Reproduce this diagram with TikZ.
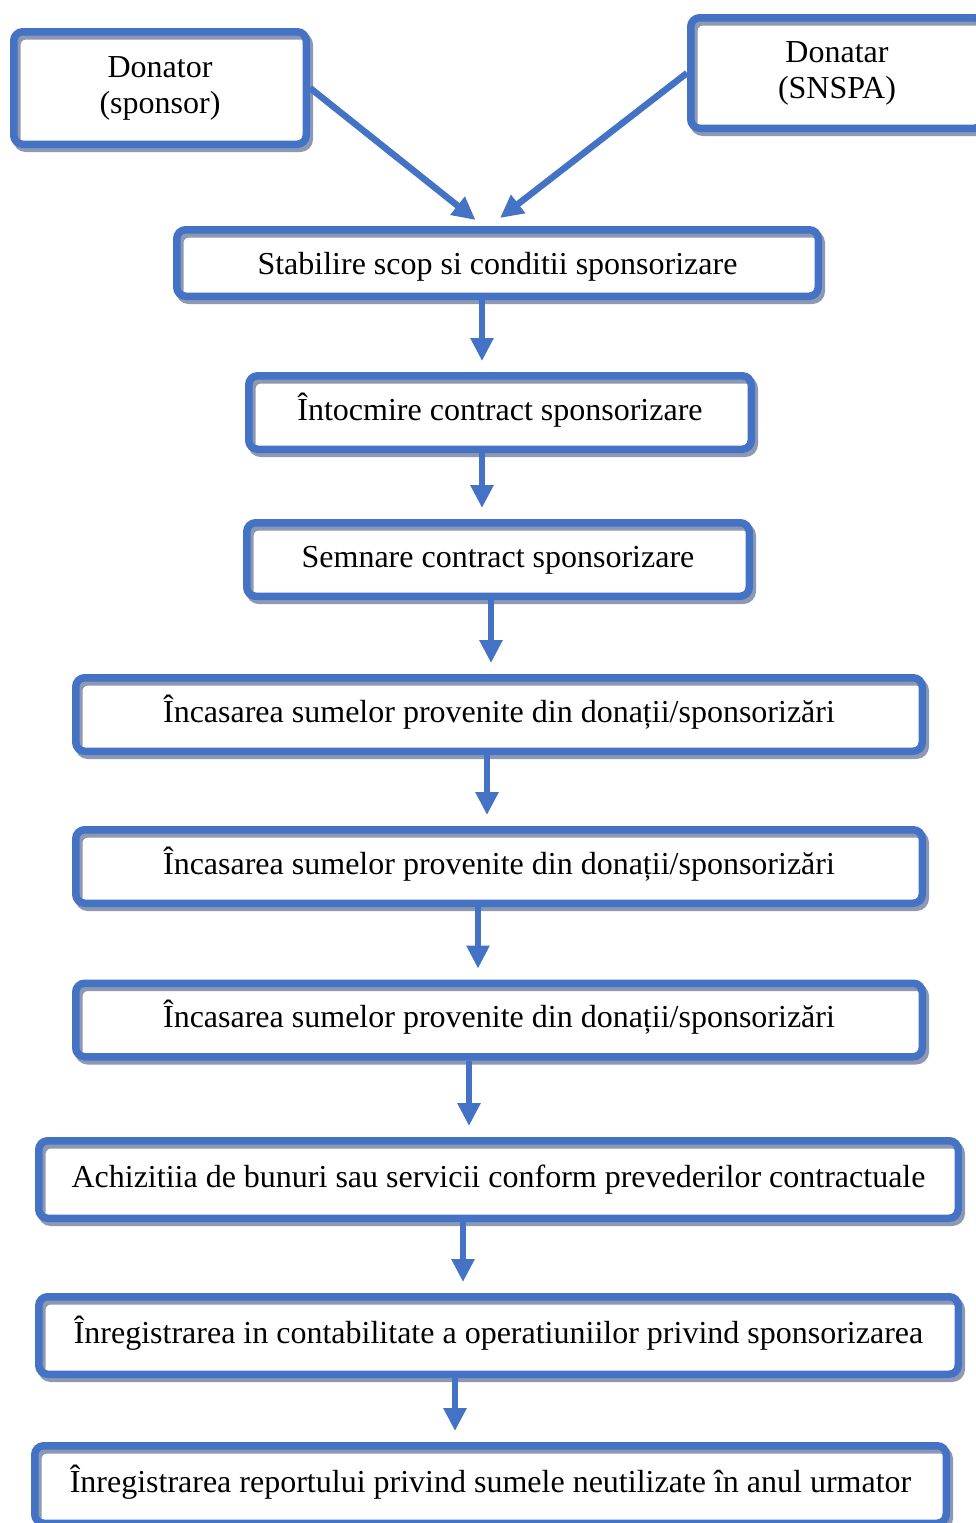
\documentclass[tikz,border=0pt]{standalone}
\usepackage{fontspec}
\setmainfont{Liberation Serif}
\usetikzlibrary{arrows.meta,calc}

\definecolor{flowblue}{RGB}{68,114,196}
\definecolor{shadowgray}{RGB}{141,153,178}

\tikzset{
    basebox/.style={rectangle,rounded corners=9pt,draw=flowblue,line width=7.5pt,
        inner sep=0pt,align=center,font=\fontsize{32}{36}\selectfont,
        preaction={fill=white},
        preaction={draw=shadowgray,line width=7.5pt,transform canvas={xshift=3pt,yshift=-4pt}}},
    endbox/.style={basebox},
    stepbox/.style={basebox,text height=22pt,text depth=7pt},
    flow/.style={draw=flowblue,line width=6.5pt,-{Triangle[length=23pt,width=22pt]}}
}

\begin{document}
\begin{tikzpicture}[x=1pt,y=-1pt]
        \useasboundingbox (0,0) rectangle (976,1523);

        \node[endbox,minimum width=292.5,minimum height=112.5](donor) at (160,88) {Donator\\(sponsor)};
        \node[endbox,minimum width=292.5,minimum height=110.5](donee) at (837,73) {Donatar\\(SNSPA)};

        \node[stepbox,text depth=0pt,minimum width=641.5,minimum height=66.5](stab) at (497.5,263) {Stabilire scop si conditii sponsorizare};
        \node[stepbox,minimum width=502.5,minimum height=73.5](draft) at (500,412.5) {Întocmire contract sponsorizare};
        \node[stepbox,minimum width=502.5,minimum height=73.5](sign) at (498,559.5) {Semnare contract sponsorizare};
        \node[stepbox,minimum width=846.5,minimum height=73.5](cashA) at (499,714.5) {Încasarea sumelor provenite din donații/sponsorizări};
        \node[stepbox,minimum width=846.5,minimum height=73.5](cashB) at (499,866.5) {Încasarea sumelor provenite din donații/sponsorizări};
        \node[stepbox,minimum width=846.5,minimum height=73.5](cashC) at (499,1020) {Încasarea sumelor provenite din donații/sponsorizări};
        \node[stepbox,minimum width=919.5,minimum height=77.5](buy) at (498.5,1179.5) {Achizitiia de bunuri sau servicii conform prevederilor contractuale};
        \node[stepbox,minimum width=919.5,minimum height=77.5](book) at (498.5,1335.5) {Înregistrarea in contabilitate a operatiuniilor privind sponsorizarea};
        \node[stepbox,minimum width=911.5,minimum height=77.5](carry) at (490.5,1484.5) {Înregistrarea reportului privind sumele neutilizate în anul urmator};

        \draw[flow](donor.east)--($(stab.north)+(-22,-6)$);
        \draw[flow](donee.west)--($(stab.north)+(2.5,-8)$);

        \draw[flow,shorten >=11pt](stab.south -| 482,0)--(draft.north -| 482,0);
        \draw[flow,shorten >=11pt](draft.south -| 482,0)--(sign.north -| 482,0);
        \draw[flow,shorten >=11pt](sign.south -| 491,0)--(cashA.north -| 491,0);
        \draw[flow,shorten >=11pt](cashA.south -| 487,0)--(cashB.north -| 487,0);
        \draw[flow,shorten >=11pt](cashB.south -| 478,0)--(cashC.north -| 478,0);
        \draw[flow,shorten >=11pt](cashC.south -| 469,0)--(buy.north -| 469,0);
        \draw[flow,shorten >=11pt](buy.south -| 463,0)--(book.north -| 463,0);
        \draw[flow,shorten >=11pt](book.south -| 455,0)--(carry.north -| 455,0);
    \end{tikzpicture}
\end{document}
